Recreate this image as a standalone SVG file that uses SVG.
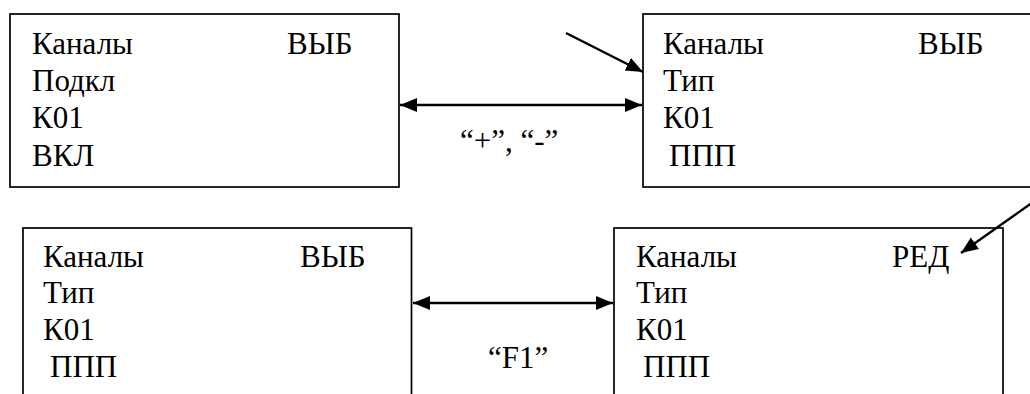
<svg xmlns="http://www.w3.org/2000/svg" width="1030" height="394" viewBox="0 0 1030 394">
  <defs>
    <style>
      .box { fill: #ffffff; stroke: #000000; stroke-width: 1.7; }
      .t { font-family: "Liberation Serif", "Times New Roman", "DejaVu Serif", serif; font-size: 31px; fill: #000000; }
      .conn { stroke: #000000; stroke-width: 2.4; fill: none; }
    </style>
    <marker id="ah" markerUnits="userSpaceOnUse" markerWidth="18" markerHeight="16" refX="17" refY="8" orient="auto-start-reverse" viewBox="0 0 18 16">
      <path d="M0,1 L17,8 L0,15 Z" fill="#000000"/>
    </marker>
  </defs>
  <rect width="1030" height="394" fill="#ffffff"/>

  <g id="node-top-left">
    <rect class="box" x="10" y="14" width="389" height="173"/>
    <text class="t" x="32" y="54">Каналы</text>
    <text class="t" x="287" y="54">ВЫБ</text>
    <text class="t" x="32" y="91">Подкл</text>
    <text class="t" x="32" y="128">К01</text>
    <text class="t" x="32" y="166">ВКЛ</text>
  </g>

  <g id="node-top-right">
    <rect class="box" x="643" y="14" width="420" height="173"/>
    <text class="t" x="663" y="54">Каналы</text>
    <text class="t" x="918" y="54">ВЫБ</text>
    <text class="t" x="663" y="91">Тип</text>
    <text class="t" x="663" y="128">К01</text>
    <text class="t" x="669" y="166">ППП</text>
  </g>

  <g id="node-bottom-left">
    <rect class="box" x="23" y="228" width="388.5" height="200"/>
    <text class="t" x="43" y="267">Каналы</text>
    <text class="t" x="300" y="267">ВЫБ</text>
    <text class="t" x="43" y="303">Тип</text>
    <text class="t" x="43" y="340">К01</text>
    <text class="t" x="50" y="377">ППП</text>
  </g>

  <g id="node-bottom-right">
    <rect class="box" x="614" y="228" width="389" height="200"/>
    <text class="t" x="636" y="267">Каналы</text>
    <text class="t" x="892" y="267">РЕД</text>
    <text class="t" x="636" y="303">Тип</text>
    <text class="t" x="636" y="340">К01</text>
    <text class="t" x="643" y="377">ППП</text>
  </g>

  <g id="connectors">
    <line class="conn" x1="400" y1="105" x2="642" y2="105" marker-start="url(#ah)" marker-end="url(#ah)"/>
    <line class="conn" x1="413" y1="303" x2="613" y2="303" marker-start="url(#ah)" marker-end="url(#ah)"/>
    <line class="conn" x1="566" y1="33" x2="643" y2="72" marker-end="url(#ah)"/>
    <line class="conn" x1="1036" y1="200" x2="961" y2="253" marker-end="url(#ah)"/>
  </g>

  <g id="labels">
    <text class="t" x="460" y="151">“+”, “-”</text>
    <text class="t" x="488" y="368">“F1”</text>
  </g>
</svg>
